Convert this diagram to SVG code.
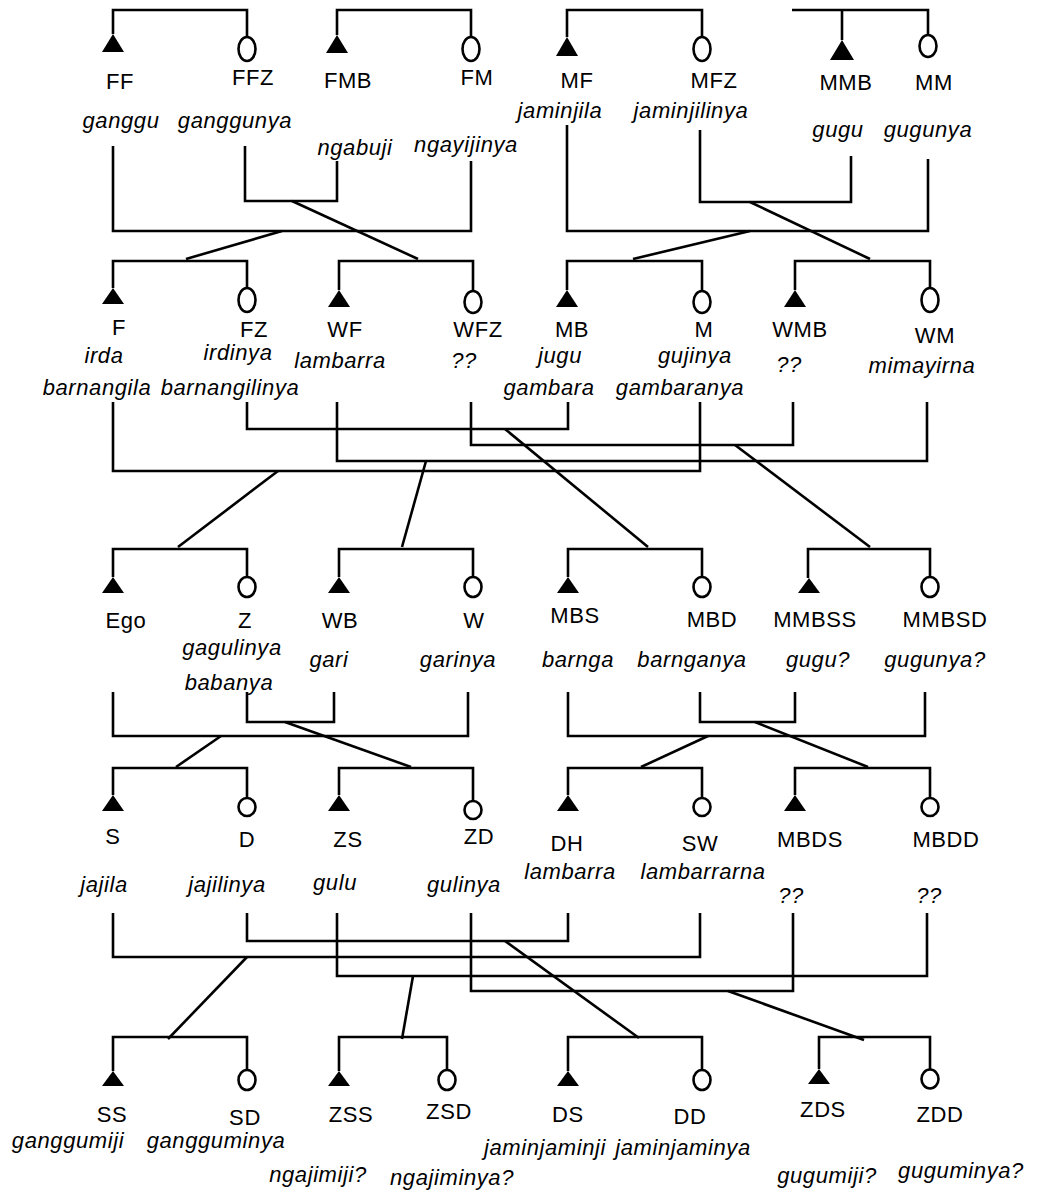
<svg xmlns="http://www.w3.org/2000/svg" width="1047" height="1200" viewBox="0 0 1047 1200">
<style>
.bg{fill:#ffffff}
.c line,.c polyline,.c path{fill:none;stroke:#000;stroke-width:2.6;stroke-linejoin:miter;stroke-linecap:butt}
.tri{fill:#000;stroke:none}
.fem{fill:#fff;stroke:#000;stroke-width:2.6}
text{font-family:"Liberation Sans",Arial,Helvetica,sans-serif;font-size:22px;letter-spacing:0.6px;fill:#000;text-anchor:middle}
.t{font-style:italic}
</style>
<rect class="bg" x="0" y="0" width="1047" height="1200"/>

<g id="connectors" class="c">
<!-- generation 1 sibling brackets -->
<polyline points="113,34 113,10 247,10 247,37"/>
<polyline points="337,35 337,10 471,10 471,37"/>
<polyline points="567,37 567,10 702,10 702,37"/>
<polyline points="792,10 928,10 928,35"/>
<line x1="842" y1="10" x2="842" y2="40"/>
<!-- gen1 to gen2 -->
<polyline points="113,146 113,231 471,231 471,161"/>
<polyline points="245,146 245,201 337,201 337,161"/>
<line x1="282" y1="231" x2="186" y2="259"/>
<line x1="292" y1="201" x2="418" y2="259"/>
<polyline points="567,125 567,231 928,231 928,159"/>
<polyline points="700,130 700,202 851,202 851,156"/>
<line x1="750" y1="231" x2="633" y2="259"/>
<line x1="750" y1="202" x2="870" y2="259"/>
<!-- generation 2 sibling brackets -->
<polyline points="113,288 113,261 247,261 247,288"/>
<polyline points="339,290 339,261 473,261 473,291"/>
<polyline points="567,290 567,261 702,261 702,291"/>
<polyline points="795,290 795,261 930,261 930,288"/>
<!-- gen2 to gen3 -->
<polyline points="113,402 113,471 700,471 700,402"/>
<polyline points="247,402 247,429 568,429 568,402"/>
<polyline points="337,402 337,461 927,461 927,402"/>
<polyline points="471,402 471,445 793,445 793,402"/>
<line x1="278" y1="471" x2="178" y2="547"/>
<line x1="426" y1="461" x2="402" y2="547"/>
<line x1="505" y1="429" x2="648" y2="547"/>
<line x1="735" y1="445" x2="870" y2="547"/>
<!-- generation 3 sibling brackets -->
<polyline points="113,577 113,549 247,549 247,577"/>
<polyline points="339,577 339,549 473,549 473,577"/>
<polyline points="568,577 568,549 702,549 702,577"/>
<polyline points="808,578 808,549 930,549 930,577"/>
<!-- gen3 to gen4 -->
<polyline points="113,692 113,736 468,736 468,692"/>
<polyline points="247,692 247,722 334,722 334,692"/>
<line x1="221" y1="736" x2="176" y2="767"/>
<line x1="285" y1="722" x2="411" y2="767"/>
<polyline points="568,692 568,736 925,736 925,692"/>
<polyline points="700,692 700,722 795,722 795,692"/>
<line x1="708" y1="736" x2="641" y2="767"/>
<line x1="755" y1="722" x2="868" y2="767"/>
<!-- generation 4 sibling brackets -->
<polyline points="113,795 113,768 247,768 247,798"/>
<polyline points="339,795 339,768 473,768 473,801"/>
<polyline points="568,795 568,768 702,768 702,798"/>
<polyline points="795,795 795,768 930,768 930,798"/>
<!-- gen4 to gen5 -->
<polyline points="113,913 113,957 700,957 700,913"/>
<polyline points="247,913 247,941 568,941 568,913"/>
<polyline points="337,913 337,976 927,976 927,913"/>
<polyline points="471,913 471,991 793,991 793,913"/>
<line x1="247" y1="957" x2="168" y2="1039"/>
<line x1="413" y1="976" x2="402" y2="1039"/>
<line x1="505" y1="941" x2="639" y2="1038"/>
<line x1="728" y1="991" x2="864" y2="1040"/>
<!-- generation 5 sibling brackets -->
<polyline points="113,1071 113,1037 247,1037 247,1070"/>
<polyline points="339,1071 339,1037 447,1037 447,1070"/>
<polyline points="568,1071 568,1037 702,1037 702,1070"/>
<polyline points="819,1069 819,1037 930,1037 930,1069"/>
</g>

<!-- Generation 1 -->
<g id="node-FF"><polygon class="tri" points="113,34 102,52 124,52"/><text x="120" y="89">FF</text><text class="t" x="121" y="128">ganggu</text></g>
<g id="node-FFZ"><ellipse class="fem" cx="247" cy="49" rx="8.5" ry="12"/><text x="253" y="85">FFZ</text><text class="t" x="235" y="128">ganggunya</text></g>
<g id="node-FMB"><polygon class="tri" points="337,35 326,53 348,53"/><text x="348" y="88">FMB</text><text class="t" x="355" y="155">ngabuji</text></g>
<g id="node-FM"><ellipse class="fem" cx="471" cy="49" rx="8.5" ry="12"/><text x="477" y="85">FM</text><text class="t" x="466" y="152">ngayijinya</text></g>
<g id="node-MF"><polygon class="tri" points="567,37 556,56 578,56"/><text x="577" y="88">MF</text><text class="t" x="560" y="118">jaminjila</text></g>
<g id="node-MFZ"><ellipse class="fem" cx="702" cy="49" rx="8.5" ry="12"/><text x="714" y="88">MFZ</text><text class="t" x="691" y="118">jaminjilinya</text></g>
<g id="node-MMB"><polygon class="tri" points="842,40 830,60 854,60"/><text x="846" y="90">MMB</text><text class="t" x="838" y="137">gugu</text></g>
<g id="node-MM"><ellipse class="fem" cx="928" cy="46" rx="8.5" ry="11"/><text x="934" y="90">MM</text><text class="t" x="928" y="137">gugunya</text></g>

<!-- Generation 2 -->
<g id="node-F"><polygon class="tri" points="113,288 102,304 124,304"/><text x="119" y="335">F</text><text class="t" x="104" y="363">irda</text><text class="t" x="97" y="395">barnangila</text></g>
<g id="node-FZ"><ellipse class="fem" cx="247" cy="300" rx="8.5" ry="12"/><text x="254" y="337">FZ</text><text class="t" x="238" y="360">irdinya</text><text class="t" x="230" y="395">barnangilinya</text></g>
<g id="node-WF"><polygon class="tri" points="339,290 328,307 350,307"/><text x="345" y="337">WF</text><text class="t" x="340" y="368">lambarra</text></g>
<g id="node-WFZ"><ellipse class="fem" cx="473" cy="302" rx="8.5" ry="11"/><text x="478" y="337">WFZ</text><text class="t" x="464" y="368">??</text></g>
<g id="node-MB"><polygon class="tri" points="567,290 556,307 578,307"/><text x="572" y="337">MB</text><text class="t" x="560" y="363">jugu</text><text class="t" x="549" y="395">gambara</text></g>
<g id="node-M"><ellipse class="fem" cx="702" cy="302" rx="8.5" ry="11"/><text x="704" y="337">M</text><text class="t" x="695" y="363">gujinya</text><text class="t" x="680" y="395">gambaranya</text></g>
<g id="node-WMB"><polygon class="tri" points="795,290 784,307 806,307"/><text x="800" y="337">WMB</text><text class="t" x="789" y="372">??</text></g>
<g id="node-WM"><ellipse class="fem" cx="930" cy="300" rx="8.5" ry="12"/><text x="935" y="343">WM</text><text class="t" x="922" y="373">mimayirna</text></g>

<!-- Generation 3 -->
<g id="node-Ego"><polygon class="tri" points="113,577 102,593 124,593"/><text x="126" y="628">Ego</text></g>
<g id="node-Z"><ellipse class="fem" cx="247" cy="587" rx="8.5" ry="10"/><text x="245" y="628">Z</text><text class="t" x="232" y="655">gagulinya</text><text class="t" x="229" y="690">babanya</text></g>
<g id="node-WB"><polygon class="tri" points="339,577 328,593 350,593"/><text x="340" y="628">WB</text><text class="t" x="329" y="667">gari</text></g>
<g id="node-W"><ellipse class="fem" cx="473" cy="587" rx="8.5" ry="10"/><text x="474" y="628">W</text><text class="t" x="458" y="667">garinya</text></g>
<g id="node-MBS"><polygon class="tri" points="568,577 557,593 579,593"/><text x="575" y="623">MBS</text><text class="t" x="578" y="667">barnga</text></g>
<g id="node-MBD"><ellipse class="fem" cx="702" cy="587" rx="8.5" ry="10"/><text x="712" y="627">MBD</text><text class="t" x="692" y="667">barnganya</text></g>
<g id="node-MMBSS"><polygon class="tri" points="809,578 798,593 820,593"/><text x="815" y="627">MMBSS</text><text class="t" x="818" y="667">gugu?</text></g>
<g id="node-MMBSD"><ellipse class="fem" cx="930" cy="587" rx="8.5" ry="10"/><text x="945" y="627">MMBSD</text><text class="t" x="935" y="667">gugunya?</text></g>

<!-- Generation 4 -->
<g id="node-S"><polygon class="tri" points="113,795 102,811 124,811"/><text x="113" y="844">S</text><text class="t" x="104" y="892">jajila</text></g>
<g id="node-D"><ellipse class="fem" cx="247" cy="807" rx="8.5" ry="9"/><text x="247" y="847">D</text><text class="t" x="227" y="892">jajilinya</text></g>
<g id="node-ZS"><polygon class="tri" points="339,795 328,811 350,811"/><text x="348" y="847">ZS</text><text class="t" x="335" y="890">gulu</text></g>
<g id="node-ZD"><ellipse class="fem" cx="473" cy="810" rx="8.5" ry="9"/><text x="479" y="844">ZD</text><text class="t" x="464" y="892">gulinya</text></g>
<g id="node-DH"><polygon class="tri" points="568,795 557,811 579,811"/><text x="567" y="851">DH</text><text class="t" x="570" y="879">lambarra</text></g>
<g id="node-SW"><ellipse class="fem" cx="702" cy="807" rx="8.5" ry="9"/><text x="700" y="851">SW</text><text class="t" x="703" y="879">lambarrarna</text></g>
<g id="node-MBDS"><polygon class="tri" points="795,795 784,811 806,811"/><text x="810" y="847">MBDS</text><text class="t" x="791" y="903">??</text></g>
<g id="node-MBDD"><ellipse class="fem" cx="930" cy="807" rx="8.5" ry="9"/><text x="946" y="847">MBDD</text><text class="t" x="929" y="903">??</text></g>

<!-- Generation 5 -->
<g id="node-SS"><polygon class="tri" points="113,1071 102,1086 124,1086"/><text x="112" y="1122">SS</text><text class="t" x="68" y="1148">ganggumiji</text></g>
<g id="node-SD"><ellipse class="fem" cx="247" cy="1080" rx="8.5" ry="10"/><text x="245" y="1125">SD</text><text class="t" x="216" y="1148">gangguminya</text></g>
<g id="node-ZSS"><polygon class="tri" points="339,1071 328,1086 350,1086"/><text x="351" y="1122">ZSS</text><text class="t" x="318" y="1182">ngajimiji?</text></g>
<g id="node-ZSD"><ellipse class="fem" cx="447" cy="1080" rx="8.5" ry="10"/><text x="449" y="1119">ZSD</text><text class="t" x="452" y="1185">ngajiminya?</text></g>
<g id="node-DS"><polygon class="tri" points="568,1071 557,1086 579,1086"/><text x="568" y="1122">DS</text><text class="t" x="545" y="1155">jaminjaminji</text></g>
<g id="node-DD"><ellipse class="fem" cx="702" cy="1080" rx="8.5" ry="10"/><text x="690" y="1124">DD</text><text class="t" x="683" y="1155">jaminjaminya</text></g>
<g id="node-ZDS"><polygon class="tri" points="819,1069 808,1084 830,1084"/><text x="823" y="1117">ZDS</text><text class="t" x="827" y="1183">gugumiji?</text></g>
<g id="node-ZDD"><ellipse class="fem" cx="930" cy="1079" rx="8.5" ry="9.5"/><text x="940" y="1122">ZDD</text><text class="t" x="961" y="1178">guguminya?</text></g>
</svg>
